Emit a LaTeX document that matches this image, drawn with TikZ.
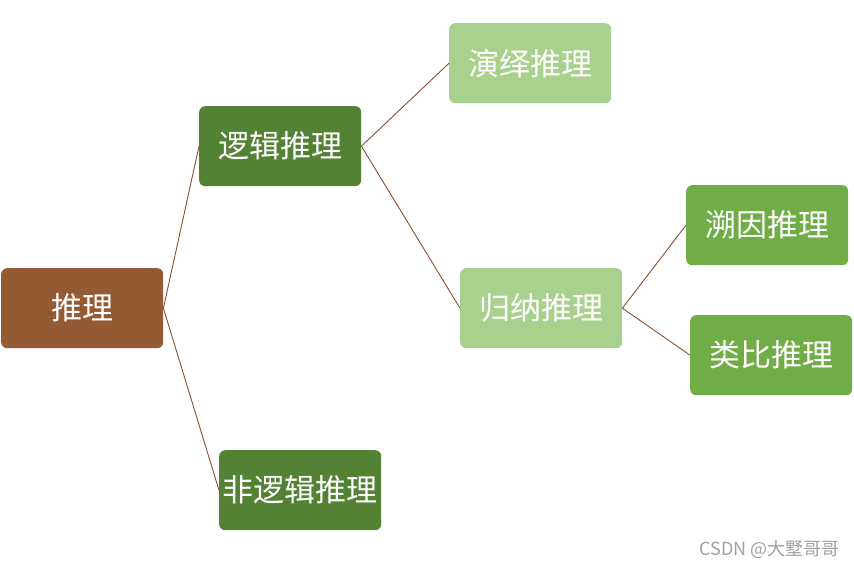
\documentclass[tikz,border=0pt]{standalone}
\usepackage{fontspec}
\newfontfamily\cjk{Noto Sans CJK SC}
\definecolor{brownbox}{HTML}{945A33}
\definecolor{darkg}{HTML}{548235}
\definecolor{midg}{HTML}{70AD47}
\definecolor{lightg}{HTML}{A9D18E}
\definecolor{linec}{HTML}{8B5030}
\definecolor{wm}{HTML}{A0A0A0}
\tikzset{
  box/.style={rounded corners=6pt, minimum width=162pt, minimum height=80pt, inner sep=0pt,
    text=white, font=\cjk\fontsize{31}{36}\selectfont, anchor=north west},
  conn/.style={draw=linec, line width=0.9pt}
}
\begin{document}
\begin{tikzpicture}[x=1pt,y=-1pt]
\useasboundingbox (0,0) rectangle (854,569);
\node[box, fill=brownbox] (root) at (1,268) {推理};
\node[box, fill=darkg] (logic) at (199,106) {逻辑推理};
\node[box, fill=darkg] (nonlogic) at (219,450) {非逻辑推理};
\node[box, fill=lightg] (deduct) at (449,23) {演绎推理};
\node[box, fill=lightg] (induct) at (460,268) {归纳推理};
\node[box, fill=midg] (abduct) at (686,185) {溯因推理};
\node[box, fill=midg] (analog) at (690,315) {类比推理};
\draw[conn] (root.east) -- (logic.west);
\draw[conn] (root.east) -- (nonlogic.west);
\draw[conn] (logic.east) -- (deduct.west);
\draw[conn] (logic.east) -- (induct.west);
\draw[conn] (induct.east) -- (abduct.west);
\draw[conn] (induct.east) -- (analog.west);
\node[text=wm, font=\cjk\fontsize{18}{21}\selectfont, anchor=east, inner sep=0pt] (wmark) at (840,550) {CSDN @大墅哥哥};
\end{tikzpicture}
\end{document}
